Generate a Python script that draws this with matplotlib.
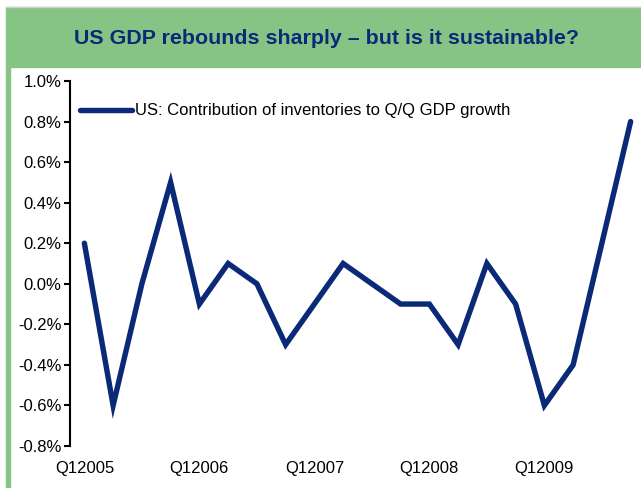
import matplotlib
matplotlib.use("Agg")
import matplotlib.pyplot as plt
from matplotlib.patches import Rectangle

plt.rcParams["font.family"] = ["Liberation Sans", "DejaVu Sans"]

quarters = [
    "Q12005", "Q22005", "Q32005", "Q42005",
    "Q12006", "Q22006", "Q32006", "Q42006",
    "Q12007", "Q22007", "Q32007", "Q42007",
    "Q12008", "Q22008", "Q32008", "Q42008",
    "Q12009", "Q22009", "Q32009", "Q42009",
]
inventories = [
    0.2, -0.6, 0.0, 0.5,
    -0.1, 0.1, 0.0, -0.3,
    -0.1, 0.1, 0.0, -0.1,
    -0.1, -0.3, 0.1, -0.1,
    -0.6, -0.4, 0.2, 0.8,
]
yticks = [-0.8, -0.6, -0.4, -0.2, 0.0, 0.2, 0.4, 0.6, 0.8, 1.0]

title = "US GDP rebounds sharply \u2013 but is it sustainable?"
series_name = "US: Contribution of inventories to Q/Q GDP growth"

navy = "#0a2a78"
green = "#86c486"

W, H = 641, 488
fig = plt.figure(figsize=(W / 100, H / 100), dpi=100)

# green header band and left strip
fig.patches.append(Rectangle((6 / W, 1 - 67 / H), 1 - 6 / W, 60 / H,
                             transform=fig.transFigure, color=green, zorder=0))
fig.patches.append(Rectangle((6 / W, 0), 4 / W, 1 - 67 / H,
                             transform=fig.transFigure, color=green, zorder=0))
fig.lines.append(plt.Line2D([6 / W, 1], [1 - 7 / H, 1 - 7 / H],
                            transform=fig.transFigure, color="#d0d0d0", lw=1))
fig.text(326 / W, 1 - 38 / H, title, ha="center", va="center",
         fontsize=15.4, fontweight="bold", color=navy)

ax = fig.add_axes([70 / W, 42 / H, (W - 70) / W, (446 - 81) / H])
x = range(len(quarters))
ax.plot(x, inventories, color=navy, lw=3.9, solid_capstyle="round",
        solid_joinstyle="miter", label=series_name)

ax.set_xlim(-0.5, -0.5 + (W - 70) / 28.75)
ax.set_ylim(-0.8, 1.0)
ax.set_yticks(yticks)
ax.set_yticklabels([f"{v:.1f}%" for v in yticks])
ax.set_xticks(list(x)[::4])
ax.set_xticklabels(quarters[::4])

for side in ("top", "right", "bottom"):
    ax.spines[side].set_visible(False)
ax.spines["left"].set_linewidth(1.5)
ax.tick_params(axis="y", length=4, width=1.5, pad=2, labelsize=12)
ax.tick_params(axis="x", length=0, pad=11, labelsize=12)

ax.legend(loc="center left", bbox_to_anchor=(72 / W, 1 - 111 / H),
          bbox_transform=fig.transFigure, frameon=False, fontsize=12,
          handlelength=3.1, handletextpad=0.18, borderpad=0)

fig.savefig("out.png", dpi=100)
